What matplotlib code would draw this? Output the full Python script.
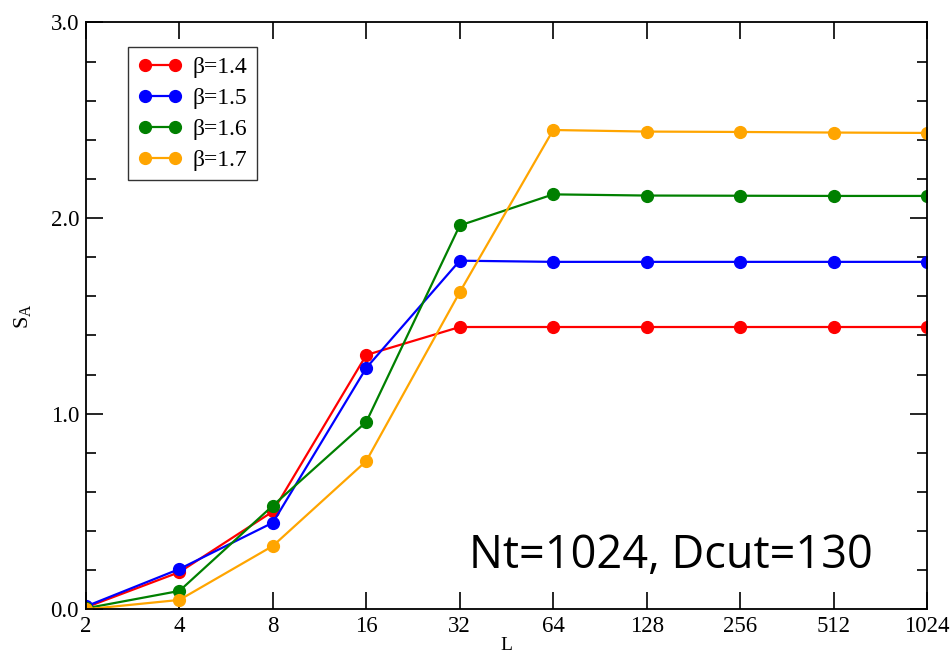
import matplotlib
matplotlib.use("Agg")
from matplotlib import pyplot as plt
from matplotlib.ticker import MultipleLocator, FixedLocator, NullLocator, FormatStrFormatter

# dane
L = [2, 4, 8, 16, 32, 64, 128, 256, 512, 1024]
s_14 = [0.01, 0.19, 0.50, 1.30, 1.443, 1.443, 1.443, 1.443, 1.443, 1.443]
s_15 = [0.015, 0.206, 0.443, 1.234, 1.782, 1.776, 1.776, 1.776, 1.776, 1.776]
s_16 = [0.005, 0.094, 0.53, 0.958, 1.962, 2.121, 2.115, 2.114, 2.113, 2.113]
s_17 = [0.0, 0.048, 0.324, 0.758, 1.621, 2.450, 2.442, 2.440, 2.437, 2.435]
betas = ["β=1.4", "β=1.5", "β=1.6", "β=1.7"]
colors = ["#ff0000", "#0000ff", "#008000", "#ffa500"]

plt.rcParams["font.family"] = ["Liberation Serif", "DejaVu Serif"]

fig = plt.figure(figsize=(9.52, 6.59), dpi=100)
ax = fig.add_axes([0.0903, 0.0754, 0.8834, 0.8906])

for ys, lab, c in zip([s_14, s_15, s_16, s_17], betas, colors):
    ax.plot(L, ys, color=c, lw=1.6, marker="o", ms=8.5, label=lab)

ax.set_xscale("log", base=2)
ax.set_xlim(2, 1024)
ax.set_ylim(0, 3.0)
ax.xaxis.set_major_locator(FixedLocator(L))
ax.xaxis.set_minor_locator(NullLocator())
ax.set_xticklabels([str(v) for v in L])
ax.yaxis.set_major_locator(MultipleLocator(1.0))
ax.yaxis.set_minor_locator(MultipleLocator(0.2))
ax.yaxis.set_major_formatter(FormatStrFormatter("%.1f"))

ax.tick_params(which="both", direction="in", top=True, right=True, width=1.2, labelsize=16.5)
ax.tick_params(which="major", length=12, pad=5)
ax.tick_params(which="minor", length=7)
for sp in ax.spines.values():
    sp.set_linewidth(1.3)

ax.set_xlabel("L", fontsize=14, labelpad=0)
ax.set_ylabel(r"S$_\mathregular{A}$", fontsize=16, labelpad=12)

leg = ax.legend(loc="upper left", bbox_to_anchor=(0.05, 0.958), fontsize=17, numpoints=2,
                handlelength=1.9, handletextpad=0.45, labelspacing=0.4,
                fancybox=False, edgecolor="black", borderpad=0.4, borderaxespad=0)
leg.get_frame().set_linewidth(1.0)

ax.text(0.936, 0.07, "Nt=1024, Dcut=130", transform=ax.transAxes, ha="right", va="baseline",
        fontsize=32.5, family=["Open Sans", "DejaVu Sans"])

fig.savefig("out.png", dpi=100)
